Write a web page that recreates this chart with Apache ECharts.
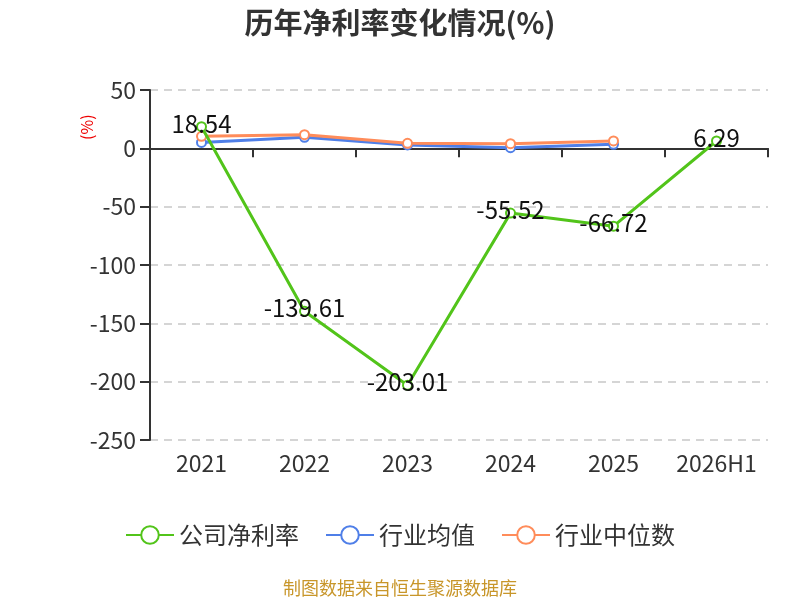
<!DOCTYPE html>
<html lang="zh">
<head>
	<meta charset="UTF-8">
	<title>历年净利率变化情况</title>
	<script src="https://cdn.jsdelivr.net/npm/echarts@6/dist/echarts.min.js"></script>
	<style>body{margin:0}</style>
</head>
<body>
	<div id="app" style="width:800px;height:600px"></div>
	<script>
		var years=["2021","2022","2023","2024","2025","2026H1"];
		var company=[18.54,-139.61,-203.01,-55.52,-66.72,6.29];
		var industryAvg=[5.1,9.5,2.9,0.6,3.4,null];
		var industryMedian=[10.3,11.7,4.3,4.0,6.3,null];
		var yTicks={min:-250,max:50,interval:50};

		var font='"Noto Sans CJK SC","Noto Sans",sans-serif';
		var myChart=echarts.init(document.getElementById('app'));
		var option={
			textStyle:{fontFamily:font},
			title:{
				text:"历年净利率变化情况(%)",
				left:"center",top:3,
				textStyle:{fontSize:29,fontWeight:"bold",color:"#333",fontFamily:font}
			},
			legend:{
				top:518,
				itemWidth:48,itemHeight:22,itemGap:26,
				textStyle:{fontSize:24,color:"#333",fontFamily:font},
				data:["公司净利率","行业均值","行业中位数"]
			},
			graphic:[{
				type:"text",left:"center",top:579,
				style:{text:"制图数据来自恒生聚源数据库",fill:"#c8962a",fontSize:18,fontFamily:font}
			},{
				// 纵轴单位
				type:"text",x:79,y:140,rotation:Math.PI/2,
				style:{text:"(%)",fill:"#e00",fontSize:16,fontFamily:font}
			}],
			grid:{left:150,right:32,top:90,bottom:160},
			xAxis:[{
				type:"category",data:years,
				axisLine:{onZero:true,lineStyle:{color:"#333",width:2}},
				axisTick:{show:true,length:9,lineStyle:{color:"#333",width:2}},
				axisLabel:{show:false}
			},{
				type:"category",data:years,position:"bottom",
				axisLine:{show:false},axisTick:{show:false},
				axisLabel:{fontSize:23,color:"#333",margin:12,interval:0}
			}],
			yAxis:{
				type:"value",min:yTicks.min,max:yTicks.max,interval:yTicks.interval,
				axisLine:{show:true,lineStyle:{color:"#333",width:2}},
				axisTick:{show:true,length:10,lineStyle:{color:"#333",width:2}},
				axisLabel:{fontSize:23,color:"#333",margin:14},
				splitLine:{lineStyle:{type:[8,6],color:"#c8c8c8",width:1.5}}
			},
			series:[{
				name:"公司净利率",type:"line",data:company,
				symbol:"emptyCircle",symbolSize:9,
				itemStyle:{color:"#52c41a"},lineStyle:{width:3},
				label:{show:true,position:"inside",offset:[0,-3],fontSize:24,color:"#111"},
				z:3
			},{
				name:"行业均值",type:"line",data:industryAvg,
				symbol:"emptyCircle",symbolSize:9,
				itemStyle:{color:"#4f7fe8"},lineStyle:{width:3},z:2
			},{
				name:"行业中位数",type:"line",data:industryMedian,
				symbol:"emptyCircle",symbolSize:9,
				itemStyle:{color:"#ff8c5a"},lineStyle:{width:3},z:2
			}]
		};
		myChart.setOption(option);
	</script>
</body>
</html>
